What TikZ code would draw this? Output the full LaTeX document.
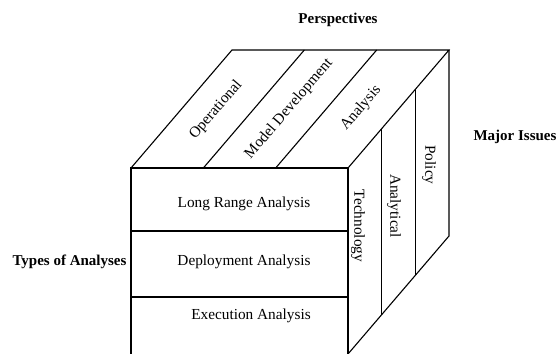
\documentclass[tikz,border=0pt]{standalone}
\usepackage{fontspec}
\setmainfont{Liberation Serif}
\usetikzlibrary{calc}

\begin{document}
\begin{tikzpicture}[x=1pt,y=-1pt,
    edge/.style={line width=1.1pt, line join=miter},
    cell/.style={font=\fontsize{15.3}{18}\selectfont},
    axis/.style={font=\fontsize{15}{18}\selectfont\bfseries},
    topcell/.style={cell, rotate=49.4},
    sidecell/.style={cell, rotate=-90}]
  \useasboundingbox (0,0) rectangle (558,354);
  % corners of the cube
  \coordinate (ftl) at (131,168);
  \coordinate (ftr) at (348,168);
  \coordinate (fbl) at (131,354);
  \coordinate (fbr) at (348,354);
  \coordinate (btl) at (232,50);
  \coordinate (btr) at (449,50);
  \coordinate (bbr) at (449,236);

  % front face
  \draw[edge] (fbl) -- (ftl) -- (ftr) -- (fbr);
  \foreach \y in {231,297}
    \draw[edge] (131,\y) -- (348,\y);
  % top face
  \draw[edge] (ftl) -- (btl) -- (btr) -- (ftr);
  \foreach \x in {1,2}
    \draw[edge] ($(ftl)!\x/3!(ftr)$) -- ($(btl)!\x/3!(btr)$);
  % right face
  \draw[edge] (btr) -- (bbr) -- (fbr);
  \foreach \x in {1,2}
    \draw[edge] ($(ftr)!\x/3!(btr)$) -- ($(fbr)!\x/3!(bbr)$);

  % axis titles
  \node[axis] (perspectives) at (338,20) {Perspectives};
  \node[axis] (issues) at (515,137) {Major Issues};
  \node[axis, anchor=east] (types) at (130,262) {Types of Analyses};

  % front cells
  \node[cell] (longrange) at (244,204) {Long Range Analysis};
  \node[cell] (deployment) at (244,262) {Deployment Analysis};
  \node[cell] (execution) at (251,316) {Execution Analysis};

  % top cells
  \node[topcell] (operational) at (216,110) {Operational};
  \node[topcell] (modeldev) at (289,109) {Model Development};
  \node[topcell] (analysis) at (361,108) {Analysis};

  % side cells
  \node[sidecell] (technology) at (358,226) {Technology};
  \node[sidecell] (analytical) at (394,206) {Analytical};
  \node[sidecell] (policy) at (429,165) {Policy};
\end{tikzpicture}
\end{document}
